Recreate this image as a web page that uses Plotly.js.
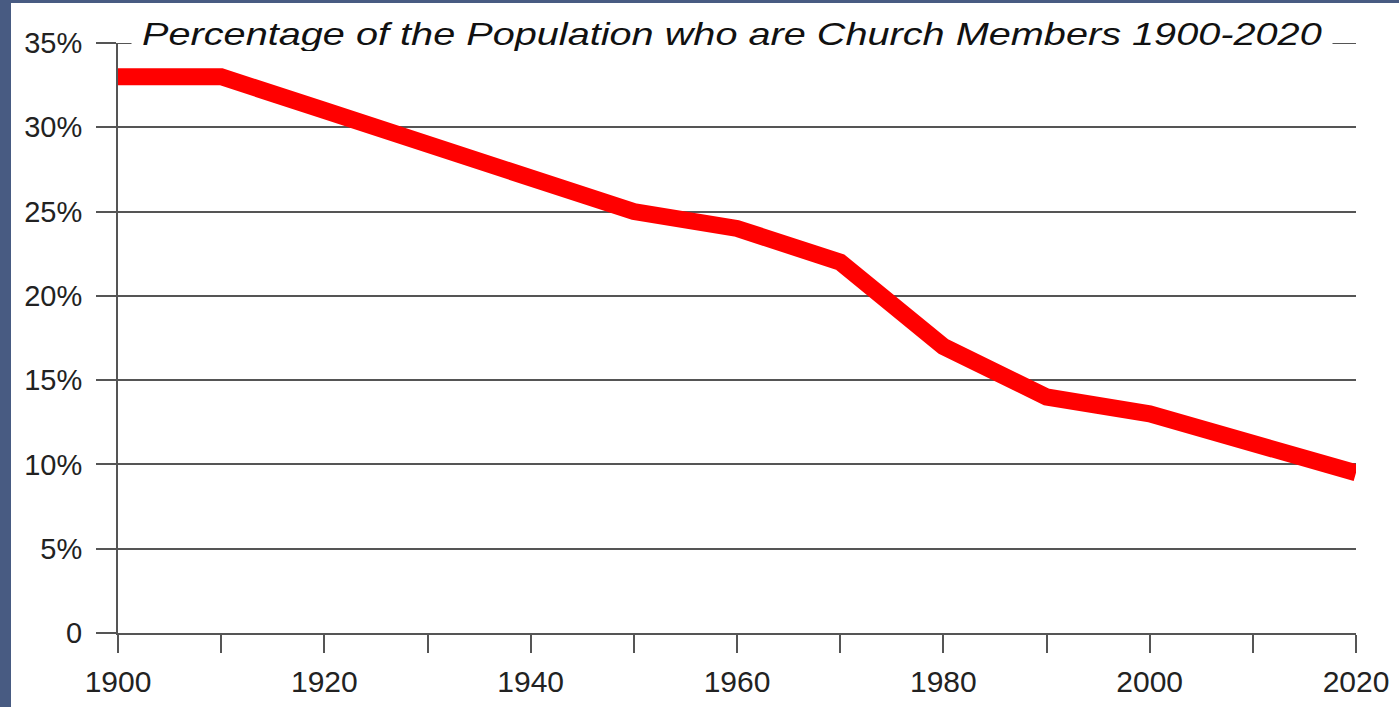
<!DOCTYPE html>
<html>
<head>
<meta charset="utf-8">
<script src="https://cdn.plot.ly/plotly-3.0.1.min.js"></script>
<style>
html,body{margin:0;padding:0;background:#485b82;width:1399px;height:707px;overflow:hidden;}
#chart{position:absolute;left:11px;top:3px;width:1388px;height:704px;background:#fff;}
#chart .annotation-text{transform-box:fill-box;transform-origin:center;transform:scaleX(1.24);}
</style>
</head>
<body>
<div id="chart"></div>
<script>
const years = [1900, 1910, 1920, 1930, 1940, 1950, 1960, 1970, 1980, 1990, 2000, 2010, 2020];
const membershipPct = [33, 33, 31, 29, 27, 25, 24, 22, 17, 14, 13, 11.3, 9.5];
const xTickVals = [1900, 1910, 1920, 1930, 1940, 1950, 1960, 1970, 1980, 1990, 2000, 2010, 2020];
const xTickText = ['1900', '', '1920', '', '1940', '', '1960', '', '1980', '', '2000', '', '2020'];
const yTickVals = [0, 5, 10, 15, 20, 25, 30, 35];
const yTickText = ['0', '5%', '10%', '15%', '20%', '25%', '30%', '35%'];
const titleText = 'Percentage of the Population who are Church Members 1900-2020';

const trace = {
  x: years, y: membershipPct, type: 'scatter', mode: 'lines',
  line: {color: '#ff0000', width: 17},
  hoverinfo: 'skip'
};

const layout = {
  width: 1388, height: 704,
  margin: {l: 107, r: 43, t: 40, b: 74},
  paper_bgcolor: '#ffffff', plot_bgcolor: '#ffffff',
  showlegend: false,
  font: {family: 'Liberation Sans, Arial, sans-serif', color: '#222', size: 30},
  xaxis: {
    range: [1900, 2020], tickmode: 'array', tickvals: xTickVals, ticktext: xTickText,
    ticks: 'outside', ticklen: 18, tickwidth: 2, tickcolor: '#555',
    showline: true, linecolor: '#555', linewidth: 2, showgrid: false, zeroline: false,
    ticklabelstandoff: 3,
    tickfont: {size: 30, color: '#222'}
  },
  yaxis: {
    range: [0, 35], tickmode: 'array', tickvals: yTickVals, ticktext: yTickText,
    ticks: 'outside', ticklen: 20, tickwidth: 2, tickcolor: '#555',
    showline: true, linecolor: '#555', linewidth: 2,
    showgrid: true, gridcolor: '#555', gridwidth: 2, zeroline: false,
    ticklabelstandoff: 8,
    tickfont: {size: 29, color: '#222'}
  },
  shapes: [{
    type: 'line', xref: 'paper', yref: 'y', x0: 0, x1: 1, y0: 35, y1: 35,
    line: {color: '#555', width: 2}, layer: 'below'
  }],
  annotations: [{
    text: '<i>' + titleText + '</i>',
    xref: 'paper', yref: 'y', x: 0.5, y: 35, xanchor: 'center', yanchor: 'middle',
    yshift: 9, xshift: -5,
    showarrow: false, bgcolor: '#ffffff', borderpad: 0, width: 1200, height: 34,
    font: {family: 'Liberation Sans, Arial, sans-serif', size: 32, color: '#111'}
  }]
};

Plotly.newPlot('chart', [trace], layout, {displayModeBar: false, staticPlot: true});
</script>
</body>
</html>
